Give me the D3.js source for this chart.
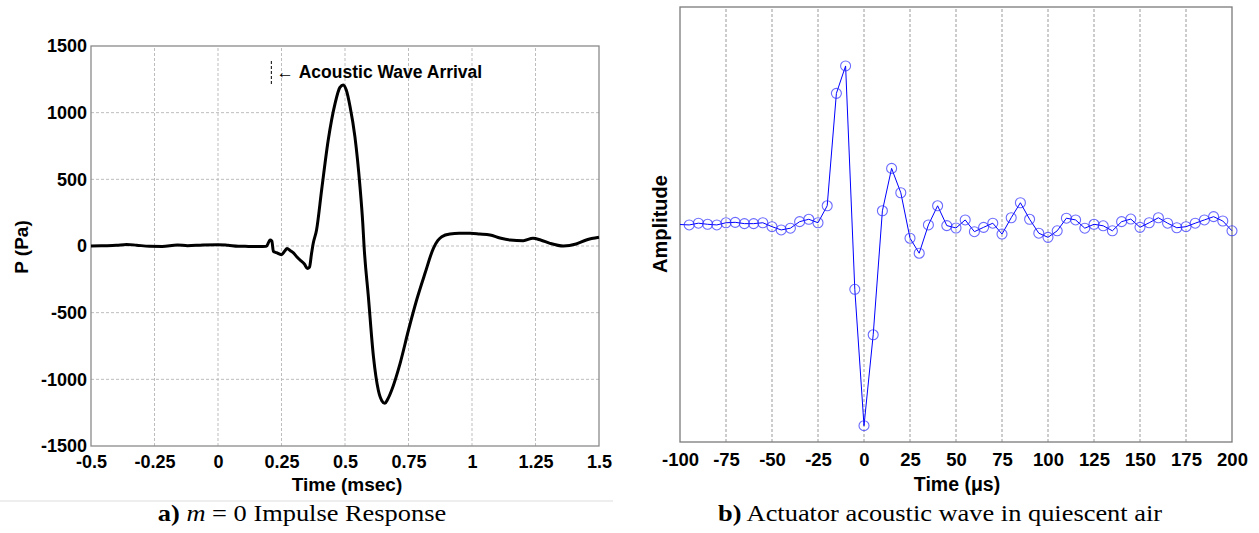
<!DOCTYPE html>
<html>
<head>
<meta charset="utf-8">
<script src="https://cdn.jsdelivr.net/npm/d3@7"></script>
<style>
  body { margin: 0; background: #fff; }
  svg { display: block; }
  .tick text { font-family: "Liberation Sans", Arial, sans-serif; font-weight: bold; fill: #000; }
  .lbl { font-family: "Liberation Sans", Arial, sans-serif; font-weight: bold; fill: #000; }
  .cap { font-family: "Liberation Serif", "Times New Roman", serif; fill: #000; }
</style>
</head>
<body>
<div id="vis"></div>
<script>
// --- left panel: m = 0 impulse response (msec, Pa)
const impulseT = [-0.5, -0.45, -0.4, -0.36, -0.32, -0.27, -0.22, -0.16, -0.12, -0.06, 0.0, 0.04, 0.08, 0.12, 0.16, 0.19,
  0.2, 0.205, 0.212, 0.218, 0.23, 0.25, 0.262, 0.272, 0.285, 0.297, 0.31, 0.323, 0.34, 0.352, 0.36, 0.368,
  0.375, 0.388, 0.408, 0.434, 0.461, 0.48, 0.493, 0.505, 0.52, 0.539, 0.559, 0.57, 0.575, 0.592, 0.612, 0.631,
  0.645, 0.657, 0.668, 0.684, 0.717, 0.75, 0.782, 0.815, 0.848, 0.865, 0.881, 0.913, 0.95, 0.992, 1.03, 1.071,
  1.11, 1.15, 1.202, 1.24, 1.27, 1.307, 1.36, 1.41, 1.45, 1.5];
const impulseP = [0, 2, 5, 12, 6, -2, -3, 8, 2, 8, 10, 5, -2, -3, -4, -2,
  30, 45, 38, -40, -50, -65, -40, -18, -35, -52, -80, -105, -135, -168, -160, -60,
  20, 120, 420, 795, 1070, 1190, 1208, 1170, 1045, 820, 445, 170, 0, -380, -830, -1080,
  -1160, -1180, -1150, -1080, -880, -630, -405, -205, -17, 40, 70, 90, 95, 95, 90, 83,
  60, 45, 40, 58, 45, 20, 0, 15, 45, 65];
const impulseXTicks = [-0.5, -0.25, 0, 0.25, 0.5, 0.75, 1, 1.25, 1.5];
const impulseYTicks = [-1500, -1000, -500, 0, 500, 1000, 1500];
const arrivalT = 0.21;
const arrivalP = [1215, 1395];

// --- right panel: actuator acoustic wave (microseconds, normalised amplitude)
const waveT = d3.range(-100, 201, 5);
const waveA = [0.0, -0.002, 0.006, 0.001, -0.002, 0.008, 0.010, 0.004, 0.004, 0.008, -0.010, -0.025, -0.017,
  0.013, 0.024, 0.008, 0.086, 0.603, 0.729, -0.298, -0.925, -0.507, 0.063, 0.258, 0.146, -0.063, -0.132,
  -0.002, 0.086, -0.005, -0.016, 0.021, -0.033, -0.013, 0.006, -0.044, 0.031, 0.100, 0.024, -0.040, -0.059,
  -0.029, 0.029, 0.021, -0.017, 0.001, -0.006, -0.029, 0.013, 0.025, -0.013, 0.008, 0.031, 0.006, -0.015,
  -0.010, 0.006, 0.021, 0.036, 0.016, -0.029];
const waveXTicks = d3.range(-100, 201, 25);

// plain labels with a hyphen minus, like the original
const plain = d => String(d);

const svg = d3.select('#vis').append('svg')
    .attr('width', 1259)
    .attr('height', 533);

svg.append('rect').attr('width', 1259).attr('height', 533).attr('fill', '#fff');

// ================= left panel =================
let xL = d3.scaleLinear().domain([-0.5, 1.5]).range([91, 599]);
let yL = d3.scaleLinear().domain([-1500, 1500]).range([446, 46]);

let gL = svg.append('g');

// grid
gL.selectAll('line.vgrid')
    .data(impulseXTicks.slice(1, -1))
    .enter().append('line')
    .attr('x1', d => xL(d)).attr('x2', d => xL(d))
    .attr('y1', yL(-1500)).attr('y2', yL(1500))
    .attr('stroke', '#bdbdbd').attr('stroke-dasharray', '3,2');
gL.selectAll('line.hgrid')
    .data(impulseYTicks.slice(1, -1))
    .enter().append('line')
    .attr('y1', d => yL(d)).attr('y2', d => yL(d))
    .attr('x1', xL(-0.5)).attr('x2', xL(1.5))
    .attr('stroke', '#bdbdbd').attr('stroke-dasharray', '3,2');

gL.append('rect')
    .attr('x', xL(-0.5)).attr('y', yL(1500))
    .attr('width', xL(1.5) - xL(-0.5)).attr('height', yL(-1500) - yL(1500))
    .attr('fill', 'none').attr('stroke', '#8a8a8a').attr('stroke-width', 1.3);

let axL = gL.append('g')
    .attr('transform', 'translate(0,' + yL(-1500) + ')')
    .call(d3.axisBottom(xL).tickValues(impulseXTicks).tickSize(0).tickPadding(9).tickFormat(plain));
let ayL = gL.append('g')
    .attr('transform', 'translate(' + xL(-0.5) + ',0)')
    .call(d3.axisLeft(yL).tickValues(impulseYTicks).tickSize(0).tickPadding(4).tickFormat(plain));
[axL, ayL].forEach(a => {
    a.select('.domain').remove();
    a.selectAll('text').style('font-size', '18px');
});

// the trace
gL.append('path')
    .datum(impulseT.map((t, i) => [t, impulseP[i]]))
    .attr('fill', 'none')
    .attr('stroke', '#000')
    .attr('stroke-width', 3)
    .attr('stroke-linejoin', 'round')
    .attr('d', d3.line().x(d => xL(d[0])).y(d => yL(d[1])).curve(d3.curveMonotoneX));

// arrival marker
gL.append('line')
    .attr('x1', xL(arrivalT)).attr('x2', xL(arrivalT))
    .attr('y1', yL(arrivalP[0])).attr('y2', yL(arrivalP[1]))
    .attr('stroke', '#000').attr('stroke-width', 1).attr('stroke-dasharray', '3,2');
let ann = gL.append('text')
    .attr('class', 'lbl')
    .attr('x', xL(arrivalT) + 5).attr('y', 78)
    .style('font-size', '17.5px');
ann.append('tspan').style('font-weight', 'normal').text('\u2190 ');
ann.append('tspan').text('Acoustic Wave Arrival');

gL.append('text').attr('class', 'lbl')
    .attr('x', 347).attr('y', 491)
    .attr('text-anchor', 'middle')
    .style('font-size', '19px')
    .text('Time (msec)');
gL.append('text').attr('class', 'lbl')
    .attr('transform', 'translate(28,247) rotate(-90)')
    .attr('text-anchor', 'middle')
    .style('font-size', '19px')
    .text('P (Pa)');

// thin separator under left panel
svg.append('line')
    .attr('x1', 0).attr('x2', 613).attr('y1', 501).attr('y2', 501)
    .attr('stroke', '#e8e8e8').attr('stroke-width', 1.5);

// ================= right panel =================
let xR = d3.scaleLinear().domain([-100, 200]).range([680, 1232]);
let yR = d3.scaleLinear().domain([-1, 1]).range([442, 7]);

let gR = svg.append('g');

gR.selectAll('line.vgrid')
    .data(waveXTicks.slice(1, -1))
    .enter().append('line')
    .attr('x1', d => xR(d)).attr('x2', d => xR(d))
    .attr('y1', yR(-1)).attr('y2', yR(1))
    .attr('stroke', '#9a9a9a').attr('stroke-dasharray', '3,2');

gR.append('rect')
    .attr('x', xR(-100)).attr('y', yR(1))
    .attr('width', xR(200) - xR(-100)).attr('height', yR(-1) - yR(1))
    .attr('fill', 'none').attr('stroke', '#7a7a7a').attr('stroke-width', 1.3);

let axR = gR.append('g')
    .attr('transform', 'translate(0,' + yR(-1) + ')')
    .call(d3.axisBottom(xR).tickValues(waveXTicks).tickSize(0).tickPadding(11).tickFormat(plain));
axR.select('.domain').remove();
axR.selectAll('text').style('font-size', '18.5px');

let wave = waveT.map((t, i) => [t, waveA[i]]);
gR.append('path')
    .datum(wave)
    .attr('fill', 'none')
    .attr('stroke', '#0000ff')
    .attr('stroke-width', 1)
    .attr('d', d3.line().x(d => xR(d[0])).y(d => yR(d[1])));

// first sample sits on the axis and shows no marker in the original
gR.selectAll('circle')
    .data(wave.filter(d => d[0] > -100))
    .enter().append('circle')
    .attr('cx', d => xR(d[0]))
    .attr('cy', d => yR(d[1]))
    .attr('r', 5)
    .attr('fill', 'none')
    .attr('stroke', '#2b2bff')
    .attr('stroke-opacity', 0.7)
    .attr('stroke-width', 1.1);

gR.append('text').attr('class', 'lbl')
    .attr('x', 957).attr('y', 491)
    .attr('text-anchor', 'middle')
    .style('font-size', '19.5px')
    .text('Time (\u03bcs)');
gR.append('text').attr('class', 'lbl')
    .attr('transform', 'translate(667,224) rotate(-90)')
    .attr('text-anchor', 'middle')
    .style('font-size', '20px')
    .text('Amplitude');

// ================= captions =================
let capA = svg.append('text').attr('class', 'cap')
    .attr('transform', 'translate(302,521) scale(1.1,1)')
    .attr('text-anchor', 'middle')
    .style('font-size', '24px');
capA.append('tspan').style('font-weight', 'bold').text('a)');
capA.append('tspan').text(' ');
capA.append('tspan').style('font-style', 'italic').text('m');
capA.append('tspan').text(' = 0 Impulse Response');

let capB = svg.append('text').attr('class', 'cap')
    .attr('transform', 'translate(940,521) scale(1.1,1)')
    .attr('text-anchor', 'middle')
    .style('font-size', '24px');
capB.append('tspan').style('font-weight', 'bold').text('b)');
capB.append('tspan').text(' Actuator acoustic wave in quiescent air');
</script>
</body>
</html>
